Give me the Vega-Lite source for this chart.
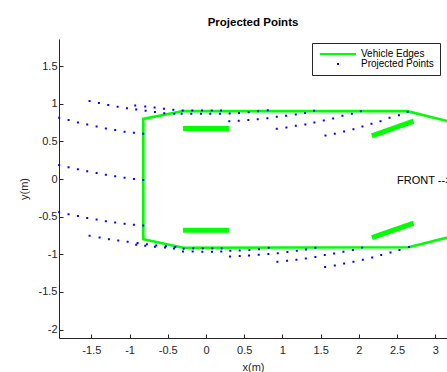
{
  "$schema": "https://vega.github.io/schema/vega-lite/v6.json",
  "width": 388,
  "height": 299,
  "autosize": {"type": "none"},
  "padding": {"left": 59, "top": 39, "right": 0, "bottom": 34},
  "background": "white",
  "title": {"text": "Projected Points", "font": "Liberation Sans", "fontSize": 11.5, "fontWeight": "bold", "color": "#000000", "anchor": "middle", "offset": 11},
  "config": {
    "view": {"stroke": null},
    "axis": {
      "grid": false,
      "domainColor": "#262626",
      "domainWidth": 1,
      "tickColor": "#262626",
      "tickWidth": 1,
      "tickSize": -4,
      "labelFont": "Liberation Sans",
      "labelFontSize": 11,
      "labelColor": "#262626",
      "titleFont": "Liberation Sans",
      "titleFontSize": 11,
      "titleFontWeight": "normal",
      "titleColor": "#262626"
    }
  },
  "datasets": {
    "edges": [
      {"s": "Vehicle Edges", "o": 0, "x": 3.3, "y": 0.735},
      {"s": "Vehicle Edges", "o": 1, "x": 2.63, "y": 0.903},
      {"s": "Vehicle Edges", "o": 2, "x": -0.3, "y": 0.906},
      {"s": "Vehicle Edges", "o": 3, "x": -0.82, "y": 0.8},
      {"s": "Vehicle Edges", "o": 4, "x": -0.82, "y": -0.8},
      {"s": "Vehicle Edges", "o": 5, "x": -0.3, "y": -0.912},
      {"s": "Vehicle Edges", "o": 6, "x": 2.65, "y": -0.905},
      {"s": "Vehicle Edges", "o": 7, "x": 3.3, "y": -0.74}
    ],
    "wheels": [
      {"w": 1, "x": -0.3, "y": 0.673},
      {"w": 1, "x": 0.3, "y": 0.673},
      {"w": 2, "x": -0.3, "y": -0.679},
      {"w": 2, "x": 0.3, "y": -0.679},
      {"w": 3, "x": 2.17, "y": 0.575},
      {"w": 3, "x": 2.715, "y": 0.77},
      {"w": 4, "x": 2.17, "y": -0.777},
      {"w": 4, "x": 2.715, "y": -0.586}
    ],
    "labels": [
      {"t": "FRONT -->", "x": 2.5, "y": -0.03}
    ],
    "points": [
      {"s": "Projected Points", "x": -1.921, "y": 0.814}, {"s": "Projected Points", "x": -1.798, "y": 0.784}, {"s": "Projected Points", "x": -1.676, "y": 0.753}, {"s": "Projected Points", "x": -1.554, "y": 0.726}, {"s": "Projected Points", "x": -1.431, "y": 0.7}, {"s": "Projected Points", "x": -1.31, "y": 0.673}, {"s": "Projected Points", "x": -1.188, "y": 0.651}, {"s": "Projected Points", "x": -1.065, "y": 0.628}, {"s": "Projected Points", "x": -0.943, "y": 0.615}, {"s": "Projected Points", "x": -0.821, "y": 0.602},
      {"s": "Projected Points", "x": -1.921, "y": 0.187}, {"s": "Projected Points", "x": -1.798, "y": 0.156}, {"s": "Projected Points", "x": -1.676, "y": 0.13}, {"s": "Projected Points", "x": -1.554, "y": 0.103}, {"s": "Projected Points", "x": -1.431, "y": 0.081}, {"s": "Projected Points", "x": -1.31, "y": 0.058}, {"s": "Projected Points", "x": -1.188, "y": 0.037}, {"s": "Projected Points", "x": -1.065, "y": 0.019}, {"s": "Projected Points", "x": -0.943, "y": 0.001}, {"s": "Projected Points", "x": -0.821, "y": -0.012},
      {"s": "Projected Points", "x": -1.921, "y": -0.44}, {"s": "Projected Points", "x": -1.798, "y": -0.467}, {"s": "Projected Points", "x": -1.676, "y": -0.489}, {"s": "Projected Points", "x": -1.554, "y": -0.516}, {"s": "Projected Points", "x": -1.431, "y": -0.538}, {"s": "Projected Points", "x": -1.31, "y": -0.559}, {"s": "Projected Points", "x": -1.188, "y": -0.578}, {"s": "Projected Points", "x": -1.065, "y": -0.595}, {"s": "Projected Points", "x": -0.943, "y": -0.608}, {"s": "Projected Points", "x": -0.821, "y": -0.618},
      {"s": "Projected Points", "x": -1.523, "y": 1.037}, {"s": "Projected Points", "x": -1.401, "y": 1.013}, {"s": "Projected Points", "x": -1.279, "y": 0.985}, {"s": "Projected Points", "x": -1.156, "y": 0.961}, {"s": "Projected Points", "x": -1.034, "y": 0.941}, {"s": "Projected Points", "x": -0.913, "y": 0.925}, {"s": "Projected Points", "x": -0.79, "y": 0.91}, {"s": "Projected Points", "x": -0.668, "y": 0.893}, {"s": "Projected Points", "x": -0.546, "y": 0.876}, {"s": "Projected Points", "x": -0.415, "y": 0.867},
      {"s": "Projected Points", "x": -0.926, "y": 0.979}, {"s": "Projected Points", "x": -0.795, "y": 0.964}, {"s": "Projected Points", "x": -0.672, "y": 0.951}, {"s": "Projected Points", "x": -0.55, "y": 0.935}, {"s": "Projected Points", "x": -0.428, "y": 0.921}, {"s": "Projected Points", "x": -0.305, "y": 0.912}, {"s": "Projected Points", "x": -0.179, "y": 0.912}, {"s": "Projected Points", "x": -0.052, "y": 0.912}, {"s": "Projected Points", "x": 0.075, "y": 0.912}, {"s": "Projected Points", "x": 0.197, "y": 0.912},
      {"s": "Projected Points", "x": -0.318, "y": 0.87}, {"s": "Projected Points", "x": -0.192, "y": 0.867}, {"s": "Projected Points", "x": -0.065, "y": 0.867}, {"s": "Projected Points", "x": 0.056, "y": 0.867}, {"s": "Projected Points", "x": 0.183, "y": 0.867}, {"s": "Projected Points", "x": 0.31, "y": 0.872}, {"s": "Projected Points", "x": 0.432, "y": 0.88}, {"s": "Projected Points", "x": 0.559, "y": 0.89}, {"s": "Projected Points", "x": 0.681, "y": 0.903}, {"s": "Projected Points", "x": 0.808, "y": 0.915},
      {"s": "Projected Points", "x": 0.305, "y": 0.77}, {"s": "Projected Points", "x": 0.428, "y": 0.774}, {"s": "Projected Points", "x": 0.554, "y": 0.784}, {"s": "Projected Points", "x": 0.677, "y": 0.797}, {"s": "Projected Points", "x": 0.803, "y": 0.81}, {"s": "Projected Points", "x": 0.926, "y": 0.827}, {"s": "Projected Points", "x": 1.048, "y": 0.841}, {"s": "Projected Points", "x": 1.175, "y": 0.859}, {"s": "Projected Points", "x": 1.297, "y": 0.88}, {"s": "Projected Points", "x": 1.414, "y": 0.907},
      {"s": "Projected Points", "x": 0.926, "y": 0.668}, {"s": "Projected Points", "x": 1.052, "y": 0.687}, {"s": "Projected Points", "x": 1.175, "y": 0.708}, {"s": "Projected Points", "x": 1.3, "y": 0.726}, {"s": "Projected Points", "x": 1.418, "y": 0.753}, {"s": "Projected Points", "x": 1.541, "y": 0.78}, {"s": "Projected Points", "x": 1.663, "y": 0.806}, {"s": "Projected Points", "x": 1.785, "y": 0.841}, {"s": "Projected Points", "x": 1.908, "y": 0.867}, {"s": "Projected Points", "x": 2.026, "y": 0.903},
      {"s": "Projected Points", "x": 1.563, "y": 0.581}, {"s": "Projected Points", "x": 1.685, "y": 0.602}, {"s": "Projected Points", "x": 1.807, "y": 0.634}, {"s": "Projected Points", "x": 1.929, "y": 0.664}, {"s": "Projected Points", "x": 2.047, "y": 0.7}, {"s": "Projected Points", "x": 2.165, "y": 0.734}, {"s": "Projected Points", "x": 2.283, "y": 0.77}, {"s": "Projected Points", "x": 2.401, "y": 0.814}, {"s": "Projected Points", "x": 2.524, "y": 0.85}, {"s": "Projected Points", "x": 2.637, "y": 0.894},
      {"s": "Projected Points", "x": -1.523, "y": -0.754}, {"s": "Projected Points", "x": -1.392, "y": -0.777}, {"s": "Projected Points", "x": -1.27, "y": -0.798}, {"s": "Projected Points", "x": -1.148, "y": -0.817}, {"s": "Projected Points", "x": -1.025, "y": -0.834}, {"s": "Projected Points", "x": -0.895, "y": -0.851}, {"s": "Projected Points", "x": -0.773, "y": -0.865}, {"s": "Projected Points", "x": -0.651, "y": -0.883}, {"s": "Projected Points", "x": -0.524, "y": -0.891}, {"s": "Projected Points", "x": -0.402, "y": -0.904},
      {"s": "Projected Points", "x": -0.913, "y": -0.874}, {"s": "Projected Points", "x": -0.795, "y": -0.887}, {"s": "Projected Points", "x": -0.668, "y": -0.9}, {"s": "Projected Points", "x": -0.537, "y": -0.909}, {"s": "Projected Points", "x": -0.419, "y": -0.923}, {"s": "Projected Points", "x": -0.292, "y": -0.925}, {"s": "Projected Points", "x": -0.166, "y": -0.922}, {"s": "Projected Points", "x": -0.043, "y": -0.922}, {"s": "Projected Points", "x": 0.083, "y": -0.922}, {"s": "Projected Points", "x": 0.205, "y": -0.922},
      {"s": "Projected Points", "x": -0.301, "y": -0.962}, {"s": "Projected Points", "x": -0.174, "y": -0.962}, {"s": "Projected Points", "x": -0.048, "y": -0.966}, {"s": "Projected Points", "x": 0.079, "y": -0.966}, {"s": "Projected Points", "x": 0.2, "y": -0.962}, {"s": "Projected Points", "x": 0.318, "y": -0.951}, {"s": "Projected Points", "x": 0.441, "y": -0.949}, {"s": "Projected Points", "x": 0.568, "y": -0.942}, {"s": "Projected Points", "x": 0.694, "y": -0.931}, {"s": "Projected Points", "x": 0.821, "y": -0.913},
      {"s": "Projected Points", "x": 0.314, "y": -1.029}, {"s": "Projected Points", "x": 0.441, "y": -1.023}, {"s": "Projected Points", "x": 0.563, "y": -1.016}, {"s": "Projected Points", "x": 0.69, "y": -1.006}, {"s": "Projected Points", "x": 0.816, "y": -0.997}, {"s": "Projected Points", "x": 0.939, "y": -0.984}, {"s": "Projected Points", "x": 1.065, "y": -0.97}, {"s": "Projected Points", "x": 1.188, "y": -0.953}, {"s": "Projected Points", "x": 1.31, "y": -0.936}, {"s": "Projected Points", "x": 1.431, "y": -0.913},
      {"s": "Projected Points", "x": 0.934, "y": -1.099}, {"s": "Projected Points", "x": 1.061, "y": -1.086}, {"s": "Projected Points", "x": 1.183, "y": -1.072}, {"s": "Projected Points", "x": 1.306, "y": -1.055}, {"s": "Projected Points", "x": 1.431, "y": -1.037}, {"s": "Projected Points", "x": 1.554, "y": -1.01}, {"s": "Projected Points", "x": 1.676, "y": -0.989}, {"s": "Projected Points", "x": 1.798, "y": -0.966}, {"s": "Projected Points", "x": 1.921, "y": -0.944}, {"s": "Projected Points", "x": 2.043, "y": -0.909},
      {"s": "Projected Points", "x": 1.558, "y": -1.169}, {"s": "Projected Points", "x": 1.685, "y": -1.148}, {"s": "Projected Points", "x": 1.807, "y": -1.122}, {"s": "Projected Points", "x": 1.929, "y": -1.099}, {"s": "Projected Points", "x": 2.052, "y": -1.073}, {"s": "Projected Points", "x": 2.174, "y": -1.042}, {"s": "Projected Points", "x": 2.292, "y": -1.01}, {"s": "Projected Points", "x": 2.414, "y": -0.976}, {"s": "Projected Points", "x": 2.531, "y": -0.944}, {"s": "Projected Points", "x": 2.655, "y": -0.904}
    ]
  },
  "encoding": {
    "x": {"field": "x", "type": "quantitative", "scale": {"domain": [-1.923, 3.153], "nice": false, "zero": false},
      "axis": {"title": "x(m)", "values": [-1.5, -1, -0.5, 0, 0.5, 1, 1.5, 2, 2.5, 3], "labelExpr": "toString(datum.value)", "labelPadding": 10, "titlePadding": 6}},
    "y": {"field": "y", "type": "quantitative", "scale": {"domain": [-2.112, 1.862], "nice": false, "zero": false},
      "axis": {"title": "y(m)", "values": [-2, -1.5, -1, -0.5, 0, 0.5, 1, 1.5], "labelExpr": "toString(datum.value)", "labelPadding": 6, "titlePadding": 9}}
  },
  "layer": [
    {
      "data": {"name": "wheels"},
      "mark": {"type": "line", "strokeWidth": 5, "strokeCap": "butt", "color": "#00ff00", "clip": true},
      "encoding": {"detail": {"field": "w", "type": "nominal"}, "order": {"field": "x", "type": "quantitative"}}
    },
    {
      "data": {"name": "edges"},
      "mark": {"type": "line", "strokeWidth": 2.6, "clip": true},
      "encoding": {
        "order": {"field": "o", "type": "quantitative"},
        "color": {"field": "s", "type": "nominal",
          "scale": {"domain": ["Vehicle Edges", "Projected Points"], "range": ["#00ff00", "#0000ff"]},
          "legend": {"title": null, "orient": "none", "legendX": 253, "legendY": 4, "labelFont": "Liberation Sans", "labelFontSize": 10, "labelColor": "#000000", "strokeColor": "#262626", "fillColor": "white", "padding": 6, "rowPadding": -1, "symbolStrokeWidth": 2, "symbolSize": 36, "symbolOffset": 15, "labelOffset": 18}}
      }
    },
    {
      "data": {"name": "points"},
      "mark": {"type": "point", "filled": false, "strokeWidth": 2, "size": 36, "opacity": 1},
      "encoding": {
        "color": {"field": "s", "type": "nominal"},
        "shape": {"field": "s", "type": "nominal",
          "scale": {"domain": ["Vehicle Edges", "Projected Points"], "range": ["M-6,0H6", "M-0.3,0H0.3M0,-0.3V0.3"]}}
      }
    },
    {
      "data": {"name": "labels"},
      "mark": {"type": "text", "align": "left", "baseline": "middle", "font": "Liberation Sans", "fontSize": 11, "color": "#000000"},
      "encoding": {"text": {"field": "t", "type": "nominal"}}
    }
  ]
}
